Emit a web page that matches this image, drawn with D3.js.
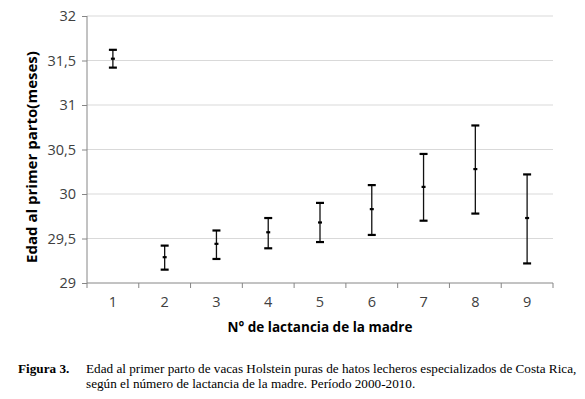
<!DOCTYPE html>
<html>
<head>
<meta charset="utf-8">
<script src="https://cdn.jsdelivr.net/npm/d3@7"></script>
<style>
  body { margin: 0; background: #fff; }
  svg { display: block; }
</style>
</head>
<body>
<div id="grafica"></div>
<script>
// datos
lactancias = ['1', '2', '3', '4', '5', '6', '7', '8', '9']
medias     = [31.52, 29.29, 29.44, 29.57, 29.68, 29.83, 30.08, 30.28, 29.73]
superior   = [31.62, 29.42, 29.59, 29.73, 29.90, 30.10, 30.45, 30.77, 30.22]
inferior   = [31.42, 29.15, 29.27, 29.39, 29.46, 29.54, 29.70, 29.78, 29.22]
ticksY     = [29, 29.5, 30, 30.5, 31, 31.5, 32]

ancho_total = 585
alto_total  = 399
margin = { left: 87, right: 32, top: 16, bottom: 116 }
ancho = ancho_total - margin.left - margin.right
alto  = alto_total - margin.top - margin.bottom

datos = lactancias.map((l, i) => ({ lac: l, media: medias[i], sup: superior[i], inf: inferior[i] }))

svg = d3.select('#grafica')
  .append('svg')
  .attr('width', ancho_total)
  .attr('height', alto_total)

g = svg.append('g')
  .attr('transform', `translate(${margin.left}, ${margin.top})`)

x = d3.scaleBand().domain(lactancias).range([0, ancho]).padding(0)
y = d3.scaleLinear().domain([29, 32]).range([alto, 0])

coma = d3.formatLocale({ decimal: ',', thousands: '.', grouping: [3], currency: ['', ''] })
fmt = coma.format('.1~f')

// lineas de la cuadricula
g.append('g')
  .selectAll('line')
  .data(ticksY.filter((d) => d > 29))
  .enter()
  .append('line')
    .attr('x1', 0)
    .attr('x2', ancho)
    .attr('y1', (d) => y(d))
    .attr('y2', (d) => y(d))
    .attr('stroke', '#d9d9d9')
    .attr('stroke-width', 1)

// eje Y
yAxisCall = d3.axisLeft(y).tickValues(ticksY).tickFormat(fmt).tickSize(5).tickPadding(6)
yGroup = g.append('g').call(yAxisCall)
yGroup.select('.domain').attr('stroke', '#868686').attr('d', `M0,0V${alto}`)
yGroup.selectAll('.tick line').attr('stroke', '#868686')
yGroup.selectAll('.tick text')
  .attr('font-family', 'Open Sans')
  .attr('font-size', '14.5px')
  .attr('fill', '#404040')

// eje X
xAxisCall = d3.axisBottom(x).tickSize(0).tickPadding(14)
xGroup = g.append('g').attr('transform', `translate(0, ${alto})`).call(xAxisCall)
xGroup.select('.domain').attr('stroke', '#868686').attr('d', `M0,0H${ancho}`)
xGroup.selectAll('.tick text')
  .attr('font-family', 'Open Sans')
  .attr('font-size', '14.5px')
  .attr('fill', '#404040')

// marcas en los limites de cada categoria
limites = lactancias.map((l) => x(l)).concat([ancho])
xGroup.selectAll('line.limite')
  .data(limites)
  .enter()
  .append('line')
    .attr('class', 'limite')
    .attr('x1', (d) => d)
    .attr('x2', (d) => d)
    .attr('y1', 0)
    .attr('y2', 5)
    .attr('stroke', '#868686')

// barras de error
barras = g.selectAll('g.barra')
  .data(datos)
  .enter()
  .append('g')
    .attr('class', 'barra')
    .attr('transform', (d) => `translate(${x(d.lac) + x.bandwidth() / 2}, 0)`)

barras.append('line')
  .attr('y1', (d) => y(d.sup))
  .attr('y2', (d) => y(d.inf))
  .attr('stroke', '#111')
  .attr('stroke-width', 1.3)

barras.selectAll('line.cap')
  .data((d) => [d.sup, d.inf])
  .enter()
  .append('line')
    .attr('class', 'cap')
    .attr('x1', -4)
    .attr('x2', 4)
    .attr('y1', (d) => y(d))
    .attr('y2', (d) => y(d))
    .attr('stroke', '#000')
    .attr('stroke-width', 2.2)

barras.append('line')
  .attr('x1', -2)
  .attr('x2', 2)
  .attr('y1', (d) => y(d.media))
  .attr('y2', (d) => y(d.media))
  .attr('stroke', '#000')
  .attr('stroke-width', 2.2)

// titulos de los ejes
svg.append('text')
  .attr('transform', `translate(37, 157) rotate(-90)`)
  .attr('text-anchor', 'middle')
  .attr('font-family', 'Open Sans')
  .attr('font-weight', 'bold')
  .attr('font-size', '15px')
  .attr('fill', '#000')
  .text('Edad al primer parto(meses)')

svg.append('text')
  .attr('x', 320)
  .attr('y', 332)
  .attr('text-anchor', 'middle')
  .attr('font-family', 'Open Sans')
  .attr('font-weight', 'bold')
  .attr('font-size', '13.5px')
  .attr('fill', '#000')
  .text('N° de lactancia de la madre')

// leyenda de la figura
svg.append('text')
  .attr('x', 18)
  .attr('y', 373)
  .attr('font-family', 'Liberation Serif')
  .attr('font-weight', 'bold')
  .attr('font-size', '13.2px')
  .text('Figura 3.')

svg.append('text')
  .attr('x', 86)
  .attr('y', 373)
  .attr('font-family', 'Liberation Serif')
  .attr('font-size', '13.2px')
  .text('Edad al primer parto de vacas Holstein puras de hatos lecheros especializados de Costa Rica,')

svg.append('text')
  .attr('x', 86)
  .attr('y', 388)
  .attr('font-family', 'Liberation Serif')
  .attr('font-size', '13.2px')
  .text('según el número de lactancia de la madre. Período 2000-2010.')
</script>
</body>
</html>
